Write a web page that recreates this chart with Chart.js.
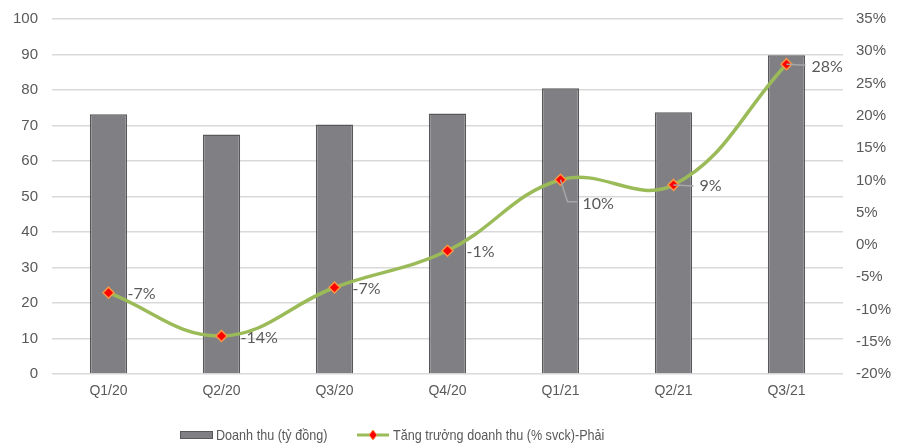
<!DOCTYPE html>
<html>
<head>
<meta charset="utf-8">
<script src="https://cdn.jsdelivr.net/npm/chart.js@4.4.0/dist/chart.umd.min.js"></script>
<style>
  html, body { margin: 0; padding: 0; background: #fff; }
  #wrap { width: 908px; height: 443px; }
</style>
</head>
<body>
<div id="wrap"><canvas id="chart"></canvas></div>
<script>
// chart data
const quarters = ['Q1/20', 'Q2/20', 'Q3/20', 'Q4/20', 'Q1/21', 'Q2/21', 'Q3/21'];
const revenue = [73.2, 67.5, 70.3, 73.4, 80.5, 73.7, 89.8];
const growth = [-7.4, -14.1, -6.6, -0.9, 10.1, 9.3, 28.0];
const revenueName = 'Doanh thu (tỷ đồng)';
const growthName = 'Tăng trưởng doanh thu (% svck)-Phải';

const TEXT = '#595959';
const GRID = '#d9d9d9';
const BAR_FILL = '#808084';
const BAR_EDGE = '#58585a';
const LINE = '#9bbb59';

// where each growth label sits relative to its point (leader = draw a grey connector)
const labelPlacement = [
  { dx: 19, dy: 1 },
  { dx: 19, dy: 2 },
  { dx: 18, dy: 1 },
  { dx: 19, dy: 1 },
  { dx: 22, dy: 24, leader: true, elbow: true },
  { dx: 26, dy: 1, leader: true },
  { dx: 25, dy: 3, leader: true },
];

const growthLabels = {
  id: 'growthLabels',
  afterDatasetsDraw(chart) {
    const meta = chart.getDatasetMeta(1);
    const ctx = chart.ctx;
    ctx.save();
    ctx.font = '16px Lato, "Open Sans", sans-serif';
    ctx.fillStyle = TEXT;
    ctx.textBaseline = 'middle';
    ctx.textAlign = 'left';
    meta.data.forEach((pt, i) => {
      const p = labelPlacement[i];
      const tx = pt.x + p.dx;
      const ty = pt.y + p.dy;
      if (p.leader) {
        ctx.strokeStyle = '#a6a6a6';
        ctx.lineWidth = 1.5;
        ctx.beginPath();
        ctx.moveTo(pt.x, pt.y);
        if (p.elbow) {
          ctx.lineTo(pt.x + 7, ty - 2);
          ctx.lineTo(tx - 5, ty - 2);
        } else {
          ctx.lineTo(tx - 6, pt.y + 1);
        }
        ctx.stroke();
      }
      ctx.fillText(Math.round(growth[i]) + '%', tx, ty);
    });
    ctx.restore();
  },
};

// draws condensed text like the original narrow legend font
function narrowText(ctx, text, x, y, squeeze) {
  ctx.save();
  ctx.translate(x, y);
  ctx.scale(squeeze, 1);
  ctx.fillText(text, 0, 0);
  ctx.restore();
}

const bottomLegend = {
  id: 'bottomLegend',
  afterDraw(chart) {
    const ctx = chart.ctx;
    const y = 435;
    ctx.save();
    ctx.font = '15px "Liberation Sans", Arial, sans-serif';
    ctx.textBaseline = 'middle';

    // bar swatch
    ctx.fillStyle = BAR_FILL;
    ctx.strokeStyle = BAR_EDGE;
    ctx.lineWidth = 1;
    ctx.fillRect(180, y - 4, 33, 8);
    ctx.strokeRect(180.5, y - 3.5, 32, 7);
    ctx.fillStyle = TEXT;
    narrowText(ctx, revenueName, 216, y + 1, 0.84);

    // line swatch
    ctx.strokeStyle = LINE;
    ctx.lineWidth = 3;
    ctx.beginPath();
    ctx.moveTo(357, y);
    ctx.lineTo(389, y);
    ctx.stroke();
    ctx.fillStyle = '#ff0000';
    ctx.strokeStyle = '#f79646';
    ctx.lineWidth = 1;
    ctx.beginPath();
    ctx.moveTo(373, y - 5);
    ctx.lineTo(377, y);
    ctx.lineTo(373, y + 5);
    ctx.lineTo(369, y);
    ctx.closePath();
    ctx.fill();
    ctx.stroke();
    ctx.fillStyle = TEXT;
    narrowText(ctx, growthName, 393, y + 1, 0.84);
    ctx.restore();
  },
};

// fixed-width side axes with no extra label overflow padding
function sideFit(width) {
  return (scale) => {
    scale.width = width;
    scale.paddingTop = 0;
    scale.paddingBottom = 0;
  };
}

new Chart(document.getElementById('chart'), {
  data: {
    labels: quarters,
    datasets: [
      {
        type: 'bar',
        label: revenueName,
        data: revenue,
        yAxisID: 'y',
        backgroundColor: BAR_FILL,
        borderColor: BAR_EDGE,
        borderWidth: 1.5,
        barPercentage: 0.33,
        categoryPercentage: 1,
        order: 2,
      },
      {
        type: 'line',
        label: growthName,
        data: growth,
        yAxisID: 'y1',
        borderColor: LINE,
        borderWidth: 3.5,
        tension: 0.4,
        pointStyle: 'rectRot',
        pointRadius: 5.5,
        pointBackgroundColor: '#ff0000',
        pointBorderColor: '#f79646',
        pointBorderWidth: 1.5,
        order: 1,
      },
    ],
  },
  options: {
    responsive: true,
    maintainAspectRatio: false,
    animation: false,
    layout: { padding: { top: 19, bottom: 41, left: 0, right: 0 } },
    plugins: {
      legend: { display: false },
      tooltip: { enabled: false },
    },
    scales: {
      x: {
        grid: { display: false },
        border: { display: false },
        ticks: {
          color: TEXT,
          font: { family: '"Liberation Sans", Arial, sans-serif', size: 14 },
          padding: 1,
        },
        afterFit(scale) { scale.height = 28; },
      },
      y: {
        position: 'left',
        min: 0,
        max: 100,
        ticks: {
          stepSize: 10,
          color: TEXT,
          font: { family: '"Liberation Sans", Arial, sans-serif', size: 15 },
          padding: 14,
        },
        grid: { color: GRID, lineWidth: 1.5, drawTicks: false },
        border: { display: false },
        afterFit: sideFit(52),
      },
      y1: {
        position: 'right',
        min: -20,
        max: 35,
        ticks: {
          stepSize: 5,
          color: TEXT,
          font: { family: '"Liberation Sans", Arial, sans-serif', size: 15 },
          padding: 13,
          callback: (v) => v + '%',
        },
        grid: { drawOnChartArea: false, drawTicks: false },
        border: { display: false },
        afterFit: sideFit(65),
      },
    },
  },
  plugins: [growthLabels, bottomLegend],
});
</script>
</body>
</html>
